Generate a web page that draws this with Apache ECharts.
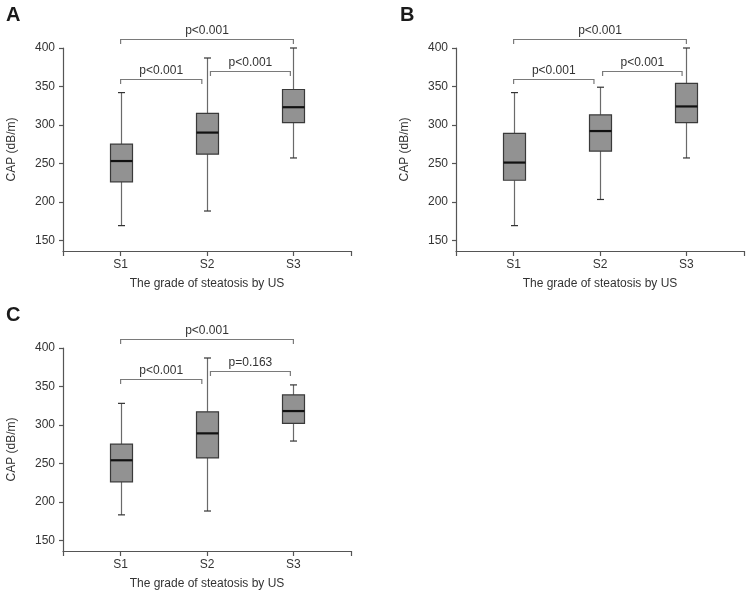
<!DOCTYPE html>
<html>
<head>
<meta charset="utf-8">
<script src="https://cdn.jsdelivr.net/npm/echarts@6/dist/echarts.min.js"></script>
<style>html,body{margin:0;padding:0;background:#fff}#c{width:752px;height:598px}</style>
</head>
<body>
<div id="c"></div>
<script>
// Categories and tick labels
const categories = ['S1', 'S2', 'S3'];
const yTicks = [150, 200, 250, 300, 350, 400];
const panelLetters = ['A', 'B', 'C'];

// Box data per panel: [min, Q1, median, Q3, max] for S1, S2, S3
const boxA = [[169, 226, 253, 275, 342], [188, 262, 290, 315, 387], [257, 303, 323, 346, 400]];
const boxB = [[169, 228, 251, 289, 342], [203, 266, 292, 313, 349], [257, 303, 324, 354, 400]];
const boxC = [[183, 226, 254, 275, 328], [188, 257, 289, 317, 387], [279, 302, 318, 339, 352]];

// Significance brackets: [from, to, level, label]
const bracketsA = [[1, 1.94, 360, 'p<0.001'], [2.04, 2.965, 370, 'p<0.001'], [1, 3, 412, 'p<0.001']];
const bracketsB = [[1, 1.93, 360, 'p<0.001'], [2.03, 2.95, 370, 'p<0.001'], [1, 3, 412, 'p<0.001']];
const bracketsC = [[1, 1.94, 360, 'p<0.001'], [2.04, 2.965, 370, 'p=0.163'], [1, 3, 412, 'p<0.001']];

const boxes = [boxA, boxB, boxC];
const brackets = [bracketsA, bracketsB, bracketsC];

const FONT = 'Liberation Sans, Arial, sans-serif';
const grids = [
  {left: 63, top: 48, width: 288, height: 203},
  {left: 456, top: 48, width: 288, height: 203},
  {left: 63, top: 348, width: 288, height: 203}
];
const letterPos = [{left: 6, top: 5}, {left: 400, top: 5}, {left: 6, top: 305}];

const chart = echarts.init(document.getElementById('c'), null, {renderer: 'canvas'});

function renderBox(params, api) {
  const x = api.value(0);
  const pMin = api.coord([x, api.value(1)]);
  const pQ1 = api.coord([x, api.value(2)]);
  const pMed = api.coord([x, api.value(3)]);
  const pQ3 = api.coord([x, api.value(4)]);
  const pMax = api.coord([x, api.value(5)]);
  const cx = Math.round(pMin[0]) + 0.5;
  const hw = 11, cap = 3.5;
  const wc = '#6a6a6a';
  return {
    type: 'group',
    children: [
      {type: 'line', shape: {x1: cx, y1: pMin[1], x2: cx, y2: pQ1[1]}, style: {stroke: wc, lineWidth: 1.2}},
      {type: 'line', shape: {x1: cx, y1: pQ3[1], x2: cx, y2: pMax[1]}, style: {stroke: wc, lineWidth: 1.2}},
      {type: 'line', shape: {x1: cx - cap, y1: pMin[1], x2: cx + cap, y2: pMin[1]}, style: {stroke: '#333', lineWidth: 1.2}},
      {type: 'line', shape: {x1: cx - cap, y1: pMax[1], x2: cx + cap, y2: pMax[1]}, style: {stroke: '#333', lineWidth: 1.2}},
      {type: 'rect', shape: {x: cx - hw, y: pQ3[1], width: hw * 2, height: pQ1[1] - pQ3[1]}, style: {fill: '#929292', stroke: '#3a3a3a', lineWidth: 1.2}},
      {type: 'line', shape: {x1: cx - hw, y1: pMed[1], x2: cx + hw, y2: pMed[1]}, style: {stroke: '#111', lineWidth: 2.2}}
    ]
  };
}

function renderBracket(params, api) {
  const a = api.coord([api.value(0), api.value(2)]);
  const b = api.coord([api.value(1), api.value(2)]);
  const y = Math.round(a[1]) + 0.5;
  const drop = 4.5;
  const c = '#7a7a7a';
  return {
    type: 'group',
    children: [
      {type: 'polyline', shape: {points: [[a[0], y + drop], [a[0], y], [b[0], y], [b[0], y + drop]]}, style: {stroke: c, fill: null, lineWidth: 1.2}},
      {type: 'text', x: (a[0] + b[0]) / 2, y: y - 3, style: {text: api.value(3), fill: '#333', font: '12px ' + FONT, align: 'center', verticalAlign: 'bottom'}}
    ]
  };
}

const option = {
  animation: false,
  backgroundColor: '#fff',
  title: panelLetters.map((t, i) => ({text: t, left: letterPos[i].left, top: letterPos[i].top, padding: 0,
    textStyle: {fontFamily: FONT, fontWeight: 'bold', fontSize: 20, color: '#1a1a1a'}})),
  grid: grids,
  xAxis: grids.map((g, i) => ({
    type: 'value', gridIndex: i, min: 1 / 3, max: 11 / 3,
    splitLine: {show: false},
    name: 'The grade of steatosis by US', nameLocation: 'middle', nameGap: 27,
    nameTextStyle: {fontFamily: FONT, fontSize: 12, color: '#333'},
    axisLine: {show: true, lineStyle: {color: '#555', width: 1.2}},
    axisTick: {show: true, length: 5, lineStyle: {color: '#555', width: 1.2}, customValues: [1 / 3, 1, 2, 3, 11 / 3]},
    axisLabel: {customValues: [1, 2, 3], margin: 8, fontFamily: FONT, fontSize: 12, color: '#333',
      formatter: v => categories[Math.round(v) - 1] || ''}
  })),
  yAxis: grids.map((g, i) => ({
    type: 'value', gridIndex: i, min: 136, max: 400,
    splitLine: {show: false},
    name: 'CAP (dB/m)', nameLocation: 'middle', nameGap: 45, nameRotate: 90,
    nameTextStyle: {fontFamily: FONT, fontSize: 12, color: '#333'},
    axisLine: {show: true, lineStyle: {color: '#555', width: 1.2}},
    axisTick: {show: true, length: 4, lineStyle: {color: '#555', width: 1.2}, customValues: yTicks},
    axisLabel: {customValues: yTicks, margin: 8, fontFamily: FONT, fontSize: 12, color: '#333'}
  })),
  series: []
};

boxes.forEach((bx, i) => {
  option.series.push({
    type: 'custom', xAxisIndex: i, yAxisIndex: i, clip: false,
    renderItem: renderBox,
    encode: {x: 0, y: [1, 2, 3, 4, 5]},
    data: bx.map((v, k) => [k + 1].concat(v))
  });
  option.series.push({
    type: 'custom', xAxisIndex: i, yAxisIndex: i, clip: false,
    renderItem: renderBracket,
    encode: {x: [0, 1], y: 2},
    data: brackets[i]
  });
});

chart.setOption(option);
</script>
</body>
</html>
